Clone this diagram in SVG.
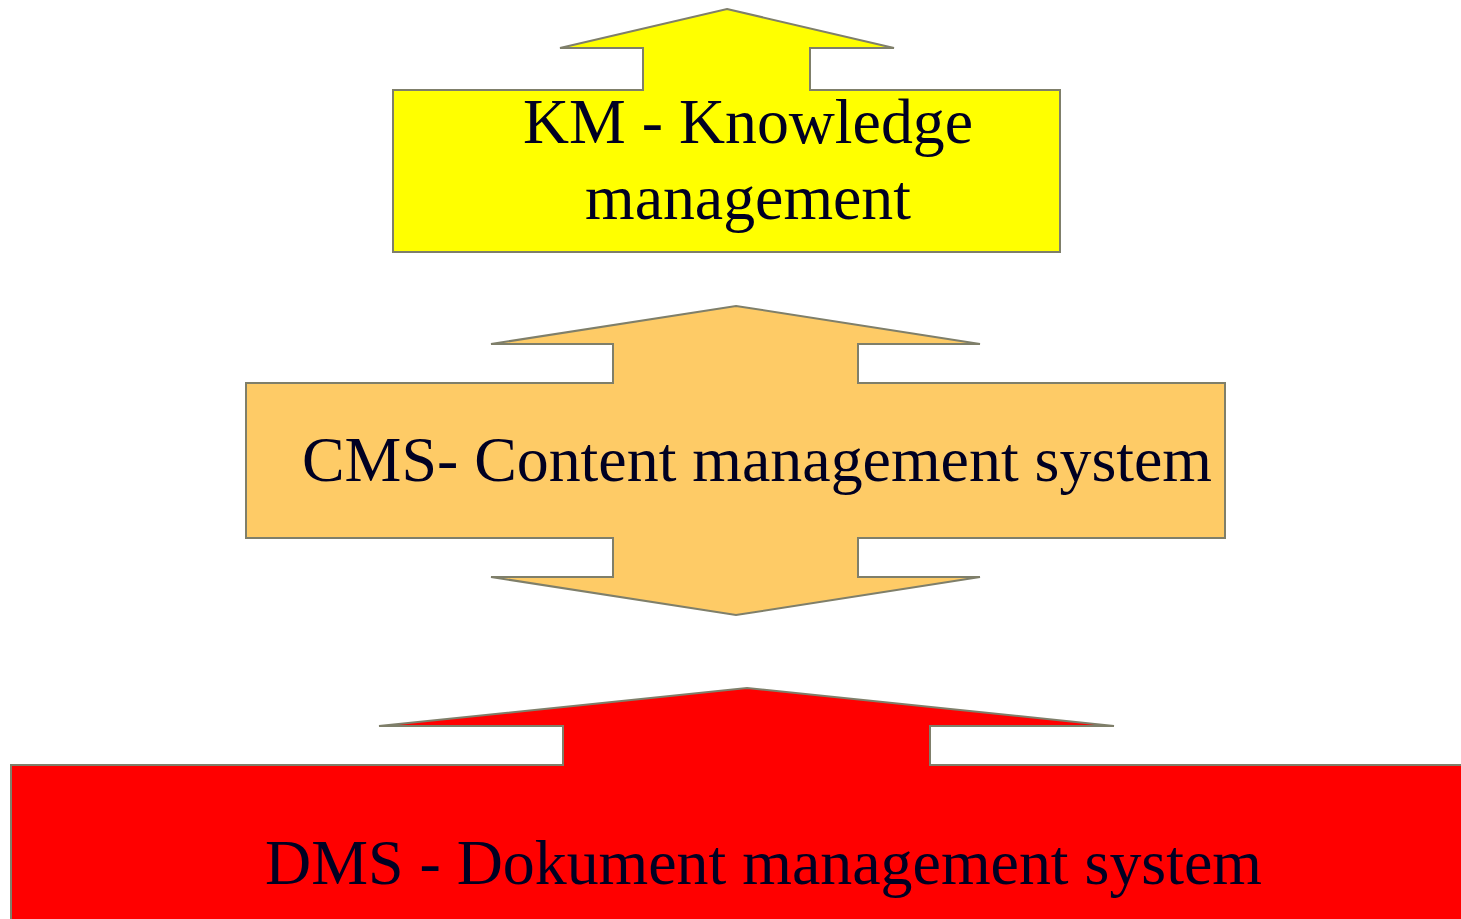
<svg xmlns="http://www.w3.org/2000/svg" width="1461" height="919" viewBox="0 0 1461 919">
<style>
.shape{stroke:#7f7f6a;stroke-width:2;stroke-linejoin:miter}
.lbl{font-family:"Liberation Serif","Times New Roman",serif;font-size:64px;fill:#000022}
</style>
<rect width="1461" height="919" fill="#ffffff"/>
<g id="connectors"></g>
<g id="km">
<path class="shape" fill="#ffff00" d="M727,9 L894,48 L810,48 L810,90 L1060,90 L1060,252 L393,252 L393,90 L643,90 L643,48 L560,48 Z"/>
<text class="lbl" x="523" y="143" textLength="450" lengthAdjust="spacingAndGlyphs">KM - Knowledge</text>
<text class="lbl" x="585" y="219" textLength="326" lengthAdjust="spacingAndGlyphs">management</text>
</g>
<g id="cms">
<path class="shape" fill="#fecb66" d="M736,306 L980,344 L858,344 L858,383 L1225,383 L1225,538 L858,538 L858,577 L980,577 L736,615 L491,577 L613,577 L613,538 L246,538 L246,383 L613,383 L613,344 L491,344 Z"/>
<text class="lbl" x="302" y="481" textLength="910" lengthAdjust="spacingAndGlyphs">CMS- Content management system</text>
</g>
<g id="dms">
<path class="shape" fill="#ff0000" d="M747,688 L1114,726 L930,726 L930,765 L1470,765 L1470,930 L11,930 L11,765 L563,765 L563,726 L379,726 Z"/>
<text class="lbl" x="265" y="884" textLength="997" lengthAdjust="spacingAndGlyphs">DMS - Dokument management system</text>
</g>
</svg>
